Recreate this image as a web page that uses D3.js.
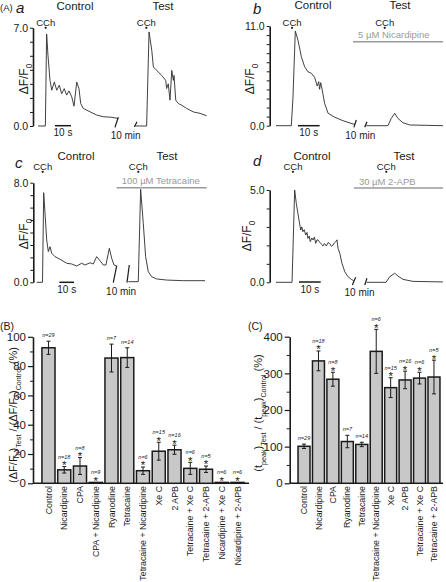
<!DOCTYPE html>
<html><head><meta charset="utf-8">
<script src="https://cdn.jsdelivr.net/npm/d3@7"></script>
<style>body{margin:0;background:#fff}svg{display:block}text{font-family:"Liberation Sans",Arial,Helvetica,sans-serif}</style>
</head><body><svg id="fig" width="446" height="582"></svg>
<script>
// ---------- DATA: traces [time (s), ΔF/F0] ----------
const aControl = [[0,0],[4.6,0],[5.4,6.55],[6.25,5.0],[7.5,3.25],[8.6,2.55],[10.2,3.13],[11.7,2.55],[13.3,2.9],[14.8,2.3],[16.4,2.66],[17.9,2.2],[19.4,2.5],[21.1,2.07],[22.5,1.41],[24.2,3.13],[25.6,2.66],[26.7,1.6],[28.3,1.25],[32.5,1.01],[36.7,0.78],[40.8,0.66],[46.1,0.62],[50,0.54]];
const aTest = [[60.6,0],[67.9,0],[69.4,6.7],[71.1,5.4],[72.1,4.2],[74.2,3.96],[77.3,3.6],[79.8,3.25],[80.4,2.67],[81.4,3.0],[82.5,1.84],[83.6,3.96],[84.6,3.25],[85,3.6],[86.1,1.84],[87.7,1.6],[89.8,1.48],[92.9,1.25],[97.1,1.0],[101.3,0.9],[105.4,0.73]];
const bControl = [[0,0],[7.05,0],[7.8,3],[8.9,10.45],[10.1,9.46],[11.7,7.6],[13.2,6.5],[14.7,5.96],[16.3,5.78],[17.8,5.34],[19.0,4.38],[19.7,4.86],[20.1,4.02],[20.6,4.75],[21.3,3.94],[22.4,2.47],[24.0,1.37],[27.1,0.93],[30.9,0.55],[35.5,0.19],[36.4,0.15]];
const bTest = [[41.6,0],[51.6,0],[53.1,0.8],[54.7,1.37],[56.2,0.8],[58.5,0.33],[61.6,0.08],[77,0]];
const cControl = [[0,0],[3.95,0],[4.76,7.2],[6.8,3.4],[7.9,2.46],[9.05,2.86],[10.2,2.33],[12.45,2.06],[15.85,1.85],[20.4,1.53],[23.8,1.47],[27.2,1.31],[30.6,1.53],[32.9,1.39],[36.3,1.57],[38.5,1.47],[40.8,2.06],[43.1,1.73],[45.3,1.39],[47.1,1.39],[49.4,2.73],[51.0,1.93],[52.6,1.39],[54.4,1.31]];
const cTest = [[62.3,0.05],[69.1,0.05],[70.7,7.47],[72.5,4.74],[74.1,2.06],[75.9,0.85],[78.2,0.45],[81.6,0.27],[88.4,0.18],[99.7,0.13],[114.5,0.13]];
const dControl = [[0,0],[7.4,0],[8.6,5.0],[9.35,4.28],[10.6,3.37],[11.4,2.83],[11.9,3.0],[12.4,2.74],[13.0,2.85],[13.7,2.56],[14.3,2.7],[14.7,2.38],[15.3,2.5],[15.8,2.2],[16.5,2.4],[17.1,2.29],[17.7,2.45],[18.3,2.11],[18.9,2.3],[19.4,2.29],[19.9,2.2],[20.4,2.15],[21.0,2.05],[21.7,1.97],[22.3,2.1],[23.2,1.97],[24.0,2.15],[24.7,2.11],[25.5,1.95],[26.3,2.02],[27.0,2.15],[27.5,2.2],[28.1,2.3],[28.6,1.84],[29.4,1.57],[30.4,1.03],[31.7,0.57],[33.2,0.3],[34.7,0.16],[35.8,0.09]];
const dTest = [[41.8,0],[50.7,0],[52.4,0.3],[54.7,0.49],[56.2,0.34],[58.5,0.16],[63.1,0.05],[76.9,0.02]];
// CCh application times (s)
const aCCh = [4.8, 67.7], bCCh = [7.4, 50.1], cCCh = [4.1, 69.1], dCCh = [7.8, 50.8];
// time breaks [t1, v1, t2, v2]
const aBreaks = [[48.1,-0.1,50.2,0.62],[60.2,-0.05,61.9,0.3]];
const bBreaks = [[35.9,-0.18,37.0,0.63],[40.9,-0.18,41.9,0.44]];
const cBreaks = [[52.1,-0.03,54.4,1.31],[61.4,-0.03,63.0,1.39]];
const dBreaks = [[35.2,-0.15,36.7,0.27],[40.9,-0.15,41.9,0.22]];
// drug application [start, end] (s)
const bDrug = [35.5, 77], cDrug = [54.4, 115.6], dDrug = [35.9, 77];
const drugNames = ["5 µM Nicardipine", "100 µM Tetracaine", "30 µM 2-APB"];
const yMaxes = [7, 11, 8, 5];
const scaleBarStart = [10.6, 10.1, 15.4, 10.6];

// ---------- DATA: bar charts ----------
const bCats = ["Control","Nicardipine","CPA","CPA + Nicardipine","Ryanodine","Tetracaine","Tetracaine + Nicardipine","Xe C","2 APB","Tetracaine + Xe C","Tetracaine + 2-APB","Nicardipine + Xe C","Nicardipine + 2-APB"];
const bMean = [92.5, 9.2, 11.8, 0.6, 85.5, 85.8, 8.6, 21.9, 22.9, 10.2, 9.6, 0.6, 0.6];
const bErr  = [4.5, 2.2, 5.8, 0, 9.5, 6.7, 2.5, 6.1, 3.1, 4.1, 2.2, 0, 0];
const bN    = [29, 18, 8, 9, 7, 14, 6, 15, 16, 6, 5, 6, 6];
const bSig  = [0, 1, 1, 1, 0, 0, 1, 1, 1, 1, 1, 1, 1];
const bTicks = [0, 20, 40, 60, 80, 100];

const cCats = ["Control","Nicardipine","CPA","Ryanodine","Tetracaine","Tetracaine + Nicardipine","Xe C","2 APB","Tetracaine + Xe C","Tetracaine + 2-APB"];
const cMean = [101, 334, 284, 114, 106, 360, 261, 282, 287, 290];
const cErr  = [6, 27, 19, 17, 6, 60, 27, 24, 16, 46];
const cN    = [29, 18, 8, 7, 14, 6, 15, 16, 6, 5];
const cSig  = [0, 1, 1, 0, 0, 1, 1, 1, 1, 1];
const cTicks = [0, 100, 200, 300, 400];

// ---------- DRAWING ----------
const svg = d3.select('#fig');
const INK = '#1a1a1a';

function addText(g, x, y, s, o = {}) {
  const t = g.append('text').attr('x', x).attr('y', y).text(s)
    .attr('font-size', o.size || 10).attr('fill', o.fill || INK)
    .attr('text-anchor', o.anchor || 'start');
  if (o.italic) t.attr('font-style', 'italic');
  if (o.rotate) t.attr('transform', `rotate(${o.rotate},${x},${y})`);
  if (o.dy) t.attr('dy', o.dy);
  return t;
}
// text made of [string, isSub] parts
function subText(g, x, y, parts, size, o = {}) {
  const sr = o.subRatio || 0.7;
  const t = g.append('text').attr('x', x).attr('y', y).attr('font-size', size).attr('fill', INK)
    .attr('text-anchor', o.anchor || 'middle');
  if (o.rotate) t.attr('transform', `rotate(${o.rotate},${x},${y})`);
  let shifted = false;
  parts.forEach(([s, sub]) => {
    const ts = t.append('tspan').text(s);
    if (sub && !shifted) { ts.attr('dy', size * 0.32).attr('font-size', size * sr); shifted = true; }
    else if (sub) { ts.attr('font-size', size * sr); }
    else if (!sub && shifted) { ts.attr('dy', -size * 0.32); shifted = false; }
  });
  return t;
}

const panels = [
  {lbl:'a', ctrl:aControl, test:aTest, cch:aCCh, brk:aBreaks, drug:null, dn:null,
   x0:38, pps:1.6, y0:126, yTop:27.7, axX:33, ylab:[28,79], cchY:25.5, sbY:125.7, sbTY:135.5, minY:139,
   tC:[75,9.5], tT:[163,9.5], drugY:0},
  {lbl:'b', ctrl:bControl, test:bTest, cch:bCCh, brk:bBreaks, drug:bDrug, dn:drugNames[0],
   x0:276, pps:2.17, y0:125.7, yTop:26, axX:269.7, ylab:[254,79], cchY:25.5, sbY:125.7, sbTY:136, minY:139,
   tC:[313,9], tT:[400,9], drugY:41.7},
  {lbl:'c', ctrl:cControl, test:cTest, cch:cCCh, brk:cBreaks, drug:cDrug, dn:drugNames[1],
   x0:36.7, pps:1.47, y0:282.3, yTop:182.7, axX:33.3, ylab:[28,234], cchY:169.5, sbY:282.3, sbTY:292.5, minY:295,
   tC:[76,159.5], tT:[167,159.5], drugY:187.7},
  {lbl:'d', ctrl:dControl, test:dTest, cch:dCCh, brk:dBreaks, drug:dDrug, dn:drugNames[2],
   x0:276, pps:2.17, y0:282.3, yTop:190, axX:269.7, ylab:[251,236], cchY:169.5, sbY:282, sbTY:292.5, minY:295.5,
   tC:[312,160], tT:[404,160], drugY:188}
];

panels.forEach((p, i) => {
  const g = svg.append('g');
  const yMax = yMaxes[i];
  const x = d3.scaleLinear().domain([0, 100]).range([p.x0, p.x0 + 100 * p.pps]);
  const y = d3.scaleLinear().domain([0, yMax]).range([p.y0, p.yTop]);
  const ax = d3.axisLeft(y).tickValues(d3.range(0, yMax + 0.001, 1)).tickSize(3).tickSizeOuter(0).tickPadding(2)
    .tickFormat(d => (d === 0 || d === yMax) ? d3.format('.1f')(d) : '');
  const ag = g.append('g').attr('transform', `translate(${p.axX},0)`).call(ax);
  ag.select('.domain').attr('stroke', INK).attr('stroke-width', 1.6);
  ag.selectAll('.tick line').attr('stroke', INK).attr('stroke-width', 1);
  ag.selectAll('.tick text').attr('font-size', 10.5).attr('fill', INK).attr('font-family', '"Liberation Sans",Arial,sans-serif');
  subText(g, p.ylab[0], p.ylab[1], [['ΔF/F', false], ['0', true]], 12, {rotate: -90});
  const line = d3.line().x(d => x(d[0])).y(d => y(d[1]));
  [p.ctrl, p.test].forEach(tr => g.append('path').datum(tr).attr('d', line)
    .attr('fill', 'none').attr('stroke', '#2b2b2b').attr('stroke-width', 0.9).attr('stroke-linejoin', 'round'));
  p.brk.forEach(b => g.append('line').attr('x1', x(b[0])).attr('y1', y(b[1])).attr('x2', x(b[2])).attr('y2', y(b[3]))
    .attr('stroke', INK).attr('stroke-width', 1.2));
  addText(g, (x(p.brk[0][0]) + x(p.brk[1][0])) / 2 + 1, p.minY, '10 min', {size: 10, anchor: 'middle'});
  const s0 = scaleBarStart[i];
  g.append('line').attr('x1', x(s0)).attr('x2', x(s0 + 10)).attr('y1', p.sbY).attr('y2', p.sbY)
    .attr('stroke', INK).attr('stroke-width', 1.5);
  addText(g, (x(s0) + x(s0 + 10)) / 2, p.sbTY, '10 s', {size: 10, anchor: 'middle'});
  p.cch.forEach(t => {
    addText(g, x(t), p.cchY, 'CCh', {size: 9.5, anchor: 'middle'});
    g.append('circle').attr('cx', x(t)).attr('cy', p.cchY + 2.3).attr('r', 1.1).attr('fill', INK);
  });
  if (p.drug) {
    g.append('line').attr('x1', x(p.drug[0])).attr('x2', x(p.drug[1])).attr('y1', p.drugY).attr('y2', p.drugY)
      .attr('stroke', '#9a9a9a').attr('stroke-width', 1.6);
    addText(g, x(p.drug[0]) + 5, p.drugY - 3.5, p.dn, {size: 9.5, fill: '#9a9a9a'});
  }
  addText(g, p.tC[0], p.tC[1], 'Control', {size: 11.5, anchor: 'middle'});
  addText(g, p.tT[0], p.tT[1], 'Test', {size: 11.5, anchor: 'middle'});
});
addText(svg, 0, 11, '(A)', {size: 9.5});
addText(svg, 16, 13, 'a', {size: 15, italic: true});
addText(svg, 253, 14, 'b', {size: 15, italic: true});
addText(svg, 15, 168, 'c', {size: 15, italic: true});
addText(svg, 253, 166, 'd', {size: 15, italic: true});

// ---------- bar charts ----------
function barChart(o) {
  const g = svg.append('g');
  const x = d3.scaleBand().domain(o.cats).range(o.xr).paddingInner(0.17).paddingOuter(0.085);
  const y = d3.scaleLinear().domain([0, o.max]).range(o.yr);
  const minors = d3.range(o.minorStep, o.max, o.minorStep * 2);
  const ax = d3.axisLeft(y).tickValues(o.ticks).tickSize(5).tickSizeOuter(0).tickPadding(2).tickFormat(d3.format('d'));
  const ag = g.append('g').attr('transform', `translate(${o.axX},0)`).call(ax);
  ag.select('.domain').attr('stroke', INK).attr('stroke-width', 1.6);
  ag.selectAll('.tick line').attr('stroke', INK).attr('stroke-width', 1.2);
  ag.selectAll('.tick text').attr('font-size', 11.5).attr('fill', INK).attr('font-family', '"Liberation Sans",Arial,sans-serif');
  const am = d3.axisLeft(y).tickValues(minors).tickSize(3).tickFormat('');
  const mg = g.append('g').attr('transform', `translate(${o.axX},0)`).call(am);
  mg.select('.domain').remove();
  mg.selectAll('.tick line').attr('stroke', INK).attr('stroke-width', 1);
  g.append('line').attr('x1', o.axX).attr('x2', o.xEnd).attr('y1', y(0)).attr('y2', y(0)).attr('stroke', INK).attr('stroke-width', 1.6);
  o.cats.forEach((c, i) => {
    const bx = x(c), bw = x.bandwidth(), cx = bx + bw / 2;
    const top = y(o.mean[i]);
    g.append('rect').attr('x', bx).attr('y', top).attr('width', bw).attr('height', Math.max(0.01, y(0) - top))
      .attr('fill', '#c8c8c8').attr('stroke', INK).attr('stroke-width', 1.5);
    let eTop = top;
    if (o.err[i] > 0) {
      eTop = y(o.mean[i] + o.err[i]);
      const eBot = y(o.mean[i] - o.err[i]);
      g.append('line').attr('x1', cx).attr('x2', cx).attr('y1', eTop).attr('y2', eBot).attr('stroke', INK).attr('stroke-width', 1);
      [eTop, eBot].forEach(yy => g.append('line').attr('x1', cx - 2).attr('x2', cx + 2).attr('y1', yy).attr('y2', yy)
        .attr('stroke', INK).attr('stroke-width', 1));
    }
    let nY = eTop - 4;
    if (o.sig[i]) { addText(g, cx, eTop + 2.4, '*', {size: 11.5, anchor: 'middle'}); nY = eTop - 8; }
    addText(g, cx, nY, 'n=' + o.n[i], {size: 5.5, italic: true, anchor: 'middle'});
    addText(g, cx, o.labY, c, {size: 8.8, anchor: 'end', rotate: -90, dy: '0.35em'});
  });
}
barChart({cats: bCats, mean: bMean, err: bErr, n: bN, sig: bSig, ticks: bTicks, max: 100, minorStep: 10,
  xr: [40.6, 245.4], yr: [483.3, 336.8], axX: 33, xEnd: 249, labY: 486});
barChart({cats: cCats, mean: cMean, err: cErr, n: cN, sig: cSig, ticks: cTicks, max: 400, minorStep: 50,
  xr: [296.8, 441.2], yr: [483.3, 336.7], axX: 289.7, xEnd: 443, labY: 486});

addText(svg, 0, 330, '(B)', {size: 10.5});
addText(svg, 248, 330, '(C)', {size: 10.5});
subText(svg, 17, 415, [['(ΔF/F', false], ['0', true], [')', false], ['Test', true], [' / (ΔF/F', false], ['0', true], [')', false], ['Control', true], [' (%)', false]], 11, {rotate: -90, subRatio: 0.65});
subText(svg, 262, 413, [['(t', false], ['peak', true], [')', false], ['Test', true], [' / (t', false], ['peak', true], [')', false], ['Control', true], [' (%)', false]], 11, {rotate: -90, subRatio: 0.65});
</script></body></html>
